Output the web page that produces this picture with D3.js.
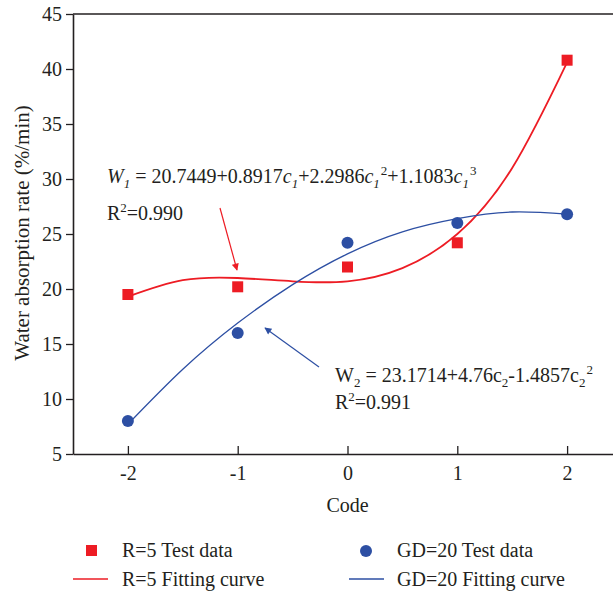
<!DOCTYPE html>
<html><head><meta charset="utf-8">
<script src="https://cdn.jsdelivr.net/npm/d3@7"></script>
<style>body{margin:0;background:#fff}svg{display:block}text{font-family:"Liberation Serif","Times New Roman",serif;fill:#231f20}</style>
</head><body><svg id="c" width="613" height="595"></svg>
<script>
const codes = [-2, -1, 0, 1, 2];
const r5Test = [19.5, 20.2, 22.0, 24.2, 40.8];
const gd20Test = [8.0, 16.0, 24.2, 26.0, 26.8];
const fitCodes = [-2, -1.5, -1, -0.5, 0, 0.5, 1, 1.5, 2];
const r5Fit = [19.3, 20.8, 21.0, 20.7, 20.7, 21.9, 25.0, 31.0, 40.6];
const gd20Fit = [7.7, 12.7, 16.9, 20.4, 23.2, 25.2, 26.4, 27.0, 26.8];
const yTicks = [5, 10, 15, 20, 25, 30, 35, 40, 45];
const xTicks = [-2, -1, 0, 1, 2];

const RED = "#ed1c24", BLUE = "#2d4fa3";
const FS = 20, SFS = 13;
const svg = d3.select("#c");
const x = d3.scaleLinear().domain([-2.5, 2.5]).range([73, 622]);
const y = d3.scaleLinear().domain([5, 45]).range([454, 14]);

const defs = svg.append("defs");
[["ar", RED], ["ab", BLUE]].forEach(([id, col]) => {
  defs.append("marker").attr("id", id).attr("viewBox", "0 0 10 10").attr("refX", 9).attr("refY", 5)
    .attr("markerWidth", 9).attr("markerHeight", 7).attr("markerUnits", "userSpaceOnUse").attr("orient", "auto")
    .append("path").attr("d", "M0,0L10,5L0,10Z").attr("fill", col);
});

// axes
const xa = svg.append("g").attr("transform", "translate(0,454)")
  .call(d3.axisBottom(x).tickValues(xTicks).tickSizeInner(-8).tickSizeOuter(0).tickPadding(12).tickFormat(d3.format("d")));
const ya = svg.append("g").attr("transform", "translate(73,0)")
  .call(d3.axisLeft(y).tickValues(yTicks).tickSizeInner(7).tickSizeOuter(0).tickPadding(4));
[xa, ya].forEach(g => {
  g.select(".domain").attr("stroke", "#231f20").attr("stroke-width", 1.6);
  g.selectAll(".tick line").attr("stroke", "#231f20").attr("stroke-width", 1.3);
  g.selectAll(".tick text").attr("font-size", FS).attr("fill", "#231f20").attr("font-family", '"Liberation Serif",serif');
});
xa.selectAll(".tick text").text(d => d < 0 ? "-" + Math.abs(d) : d);
svg.append("line").attr("x1", 73).attr("x2", 613).attr("y1", y(45)).attr("y2", y(45)).attr("stroke", "#231f20").attr("stroke-width", 1.6);

svg.append("text").attr("x", x(0)).attr("y", 512).attr("text-anchor", "middle").attr("font-size", FS).text("Code");
svg.append("text").attr("transform", "translate(29,233) rotate(-90)").attr("text-anchor", "middle").attr("font-size", 21).text("Water absorption rate (%/min)");

// curves
const line = d3.line().x(d => x(d[0])).y(d => y(d[1])).curve(d3.curveNatural);
svg.append("path").attr("d", line(fitCodes.map((c, i) => [c, r5Fit[i]]))).attr("fill", "none").attr("stroke", RED).attr("stroke-width", 1.8);
svg.append("path").attr("d", line(fitCodes.map((c, i) => [c, gd20Fit[i]]))).attr("fill", "none").attr("stroke", BLUE).attr("stroke-width", 1.3);

// points
svg.selectAll(".sq").data(codes).join("rect").attr("x", (d) => x(d) - 5.5).attr("y", (d, i) => y(r5Test[i]) - 5.5)
  .attr("width", 11).attr("height", 11).attr("fill", RED);
svg.selectAll(".ci").data(codes).join("circle").attr("cx", d => x(d)).attr("cy", (d, i) => y(gd20Test[i])).attr("r", 6).attr("fill", BLUE);

// annotations
function eq(xp, yp, parts) {
  const t = svg.append("text").attr("x", xp).attr("y", yp).attr("font-size", FS);
  parts.forEach(p => {
    const s = t.append("tspan").text(p.t);
    if (p.i) s.attr("font-style", "italic");
    if (p.fs) s.attr("font-size", p.fs);
    if (p.dy) s.attr("dy", p.dy);
    if (p.dx) s.attr("dx", p.dx);
  });
}
eq(107, 183, [
  {t: "W", i: 1}, {t: "1", i: 1, fs: SFS, dy: 5}, {t: " = 20.7449+0.8917", dy: -5},
  {t: "c", i: 1}, {t: "1", i: 1, fs: SFS, dy: 5}, {t: "+2.2986", dy: -5},
  {t: "c", i: 1}, {t: "1", i: 1, fs: SFS, dy: 5}, {t: "2", fs: SFS, dy: -13, dx: 1}, {t: "+1.1083", dy: 8},
  {t: "c", i: 1}, {t: "1", i: 1, fs: SFS, dy: 5}, {t: "3", fs: SFS, dy: -13, dx: 1}
]);
eq(107, 220, [{t: "R"}, {t: "2", fs: SFS, dy: -8}, {t: "=0.990", dy: 8}]);
eq(335, 382, [
  {t: "W"}, {t: "2", fs: SFS, dy: 5}, {t: " = 23.1714+4.76c", dy: -5}, {t: "2", fs: SFS, dy: 5},
  {t: "-1.4857c", dy: -5}, {t: "2", fs: SFS, dy: 5}, {t: "2", fs: SFS, dy: -13, dx: 1}
]);
eq(335, 409, [{t: "R"}, {t: "2", fs: SFS, dy: -8}, {t: "=0.991", dy: 8}]);

svg.append("line").attr("x1", 220).attr("y1", 208).attr("x2", 237).attr("y2", 270).attr("stroke", RED).attr("stroke-width", 1.2).attr("marker-end", "url(#ar)");
svg.append("line").attr("x1", 319).attr("y1", 367).attr("x2", 265).attr("y2", 328).attr("stroke", BLUE).attr("stroke-width", 1.2).attr("marker-end", "url(#ab)");

// legend
const lg = svg.append("g");
lg.append("rect").attr("x", 86).attr("y", 545).attr("width", 11).attr("height", 11).attr("fill", RED);
lg.append("text").attr("x", 122).attr("y", 557).attr("font-size", FS).text("R=5 Test data");
lg.append("line").attr("x1", 73).attr("x2", 108).attr("y1", 579).attr("y2", 579).attr("stroke", RED).attr("stroke-width", 1.6);
lg.append("text").attr("x", 122).attr("y", 586).attr("font-size", FS).text("R=5 Fitting curve");
lg.append("circle").attr("cx", 366).attr("cy", 551).attr("r", 6).attr("fill", BLUE);
lg.append("text").attr("x", 397).attr("y", 557).attr("font-size", FS).text("GD=20 Test data");
lg.append("line").attr("x1", 349).attr("x2", 384).attr("y1", 579).attr("y2", 579).attr("stroke", BLUE).attr("stroke-width", 1.4);
lg.append("text").attr("x", 397).attr("y", 586).attr("font-size", FS).text("GD=20 Fitting curve");
</script></body></html>
